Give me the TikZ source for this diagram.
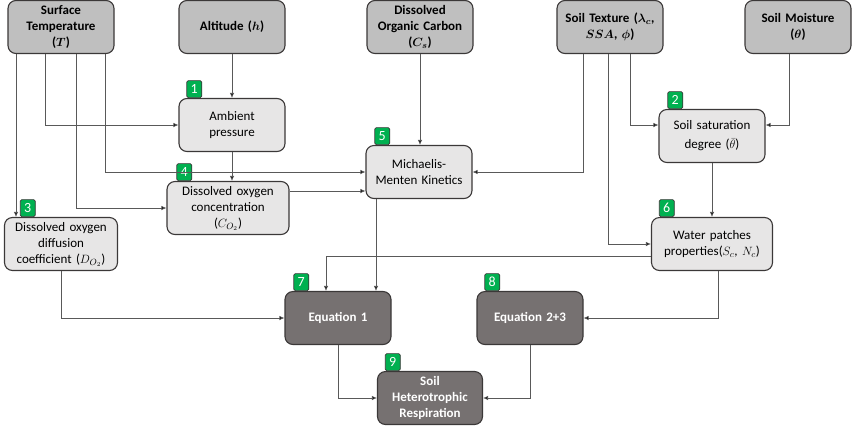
\documentclass[tikz,border=0pt]{standalone}
\usepackage{fontspec}
\setmainfont{Carlito}
\usepackage{amsmath,bm}
\usetikzlibrary{arrows.meta}
\definecolor{ingray}{HTML}{BFBFBF}
\definecolor{midgray}{HTML}{E7E6E6}
\definecolor{eqgray}{HTML}{767171}
\definecolor{badgegreen}{HTML}{00B050}
\definecolor{edgegray}{HTML}{3B3838}
\tikzset{
  box/.style={draw=edgegray,line width=1.1pt,rounded corners=8pt,minimum width=106pt,minimum height=53pt,
    text width=100pt,align=center,font=\fontsize{13}{16}\selectfont,inner sep=2pt},
  inbox/.style={box,fill=ingray,font=\fontsize{13}{16}\selectfont\bfseries},
  midbox/.style={box,fill=midgray},
  eqbox/.style={box,fill=eqgray,text=white,font=\fontsize{13}{16}\selectfont\bfseries},
  badge/.style={draw=edgegray,line width=0.6pt,fill=badgegreen,text=white,rounded corners=1.5pt,
    minimum width=15pt,minimum height=17pt,inner sep=0pt,anchor=south west,font=\fontsize{14}{14}\selectfont},
  arr/.style={draw=black!65,line width=0.7pt,-{Latex[length=5pt,width=4.5pt,fill=black]}}
}
\begin{document}
\begin{tikzpicture}[x=1pt,y=-1pt]
\useasboundingbox (0,0) rectangle (853,429);
\node[inbox] (temp) at (61,27) {Surface\\Temperature\\($\bm{T}$)};
\node[inbox] (alt) at (232,27) {Altitude ($\bm{h}$)};
\node[inbox] (doc) at (420,27) {Dissolved\\Organic Carbon\\($\bm{C_s}$)};
\node[inbox] (tex) at (610,27) {Soil Texture ($\bm{\lambda_c}$,\\$\bm{SSA}$, $\bm{\phi}$)};
\node[inbox] (moist) at (798,27) {Soil Moisture\\($\bm{\theta}$)};
\node[midbox] (amb) at (232,125) {Ambient\\pressure};
\node[midbox] (mm) at (419,172) {Michaelis-\\Menten Kinetics};
\node[midbox,minimum width=122pt,text width=116pt] (oxc) at (228,208) {Dissolved oxygen\\concentration\\($C_{O_2}$)};
\node[midbox,minimum width=113pt,text width=108pt] (diff) at (61,244) {Dissolved oxygen\\diffusion\\coefficient ($D_{O_2}$)};
\node[midbox,font=\fontsize{13}{19}\selectfont] (sat) at (712,136) {Soil saturation\\degree ($\bar{\theta}$)};
\node[midbox,minimum width=121pt,text width=116pt] (wat) at (712,244) {Water patches\\properties($S_c$, $N_c$)};
\node[eqbox] (eq1) at (338,318) {Equation 1};
\node[eqbox] (eq23) at (530,318) {Equation 2+3};
\node[eqbox,minimum width=105pt] (shr) at (430,398) {Soil\\Heterotrophic\\Respiration};
\node[badge] (b1) at ([xshift=8pt]amb.north west) {1};
\node[badge] (b2) at ([xshift=9pt]sat.north west) {2};
\node[badge] (b3) at ([xshift=16pt]diff.north west) {3};
\node[badge] (b4) at ([xshift=10pt]oxc.north west) {4};
\node[badge] (b5) at ([xshift=9pt]mm.north west) {5};
\node[badge] (b6) at ([xshift=8pt]wat.north west) {6};
\node[badge] (b7) at ([xshift=9pt]eq1.north west) {7};
\node[badge] (b8) at ([xshift=8pt]eq23.north west) {8};
\node[badge] (b9) at ([xshift=8pt]shr.north west) {9};
\draw[arr] ([xshift=-45pt]temp.south) -- ([xshift=-45pt]temp.south |- diff.north);
\draw[arr] ([xshift=-16pt]temp.south) |- (amb.west);
\draw[arr] ([xshift=15pt]temp.south) |- (oxc.west);
\draw[arr] ([xshift=44pt]temp.south) |- (mm.west);
\draw[arr] (alt.south) -- (amb.north);
\draw[arr] (amb.south) -- (amb.south |- oxc.north);
\draw[arr] ([yshift=17pt]oxc.east) -- ([yshift=17pt]oxc.east -| mm.west);
\draw[arr] (doc.south) -- (doc.south |- mm.north);
\draw[arr] ([xshift=-27pt]tex.south) |- (mm.east);
\draw[arr] ([xshift=-2pt]tex.south) |- (wat.west);
\draw[arr] ([xshift=20pt]tex.south) |- ([yshift=11pt]sat.west);
\draw[arr] ([xshift=-9pt]moist.south) |- ([yshift=11pt]sat.east);
\draw[arr] (sat.south) -- (wat.north);
\draw[arr] ([yshift=-12pt]wat.west) -| ([xshift=-12pt]eq1.north);
\draw[arr] ([xshift=-43pt]mm.south) -- ([xshift=-43pt]mm.south |- eq1.north);
\draw[arr] (diff.south) |- (eq1.west);
\draw[arr] ([xshift=6pt]wat.south) |- (eq23.east);
\draw[arr] (eq1.south) |- (shr.west);
\draw[arr] (eq23.south) |- (shr.east);
\end{tikzpicture}
\end{document}
